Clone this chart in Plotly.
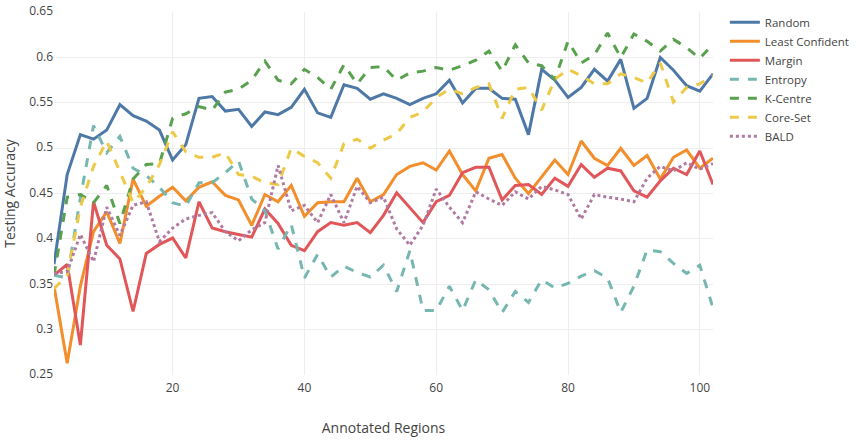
import plotly.graph_objects as go

x_regions = list(range(2, 104, 2))

random_acc = [0.372, 0.471, 0.515, 0.510, 0.520, 0.548, 0.536, 0.530, 0.520, 0.487,
              0.504, 0.555, 0.557, 0.541, 0.543, 0.524, 0.540, 0.537, 0.545, 0.565,
              0.539, 0.534, 0.570, 0.566, 0.554, 0.560, 0.555, 0.548, 0.555, 0.560,
              0.575, 0.550, 0.566, 0.566, 0.555, 0.554, 0.515, 0.587, 0.575, 0.556,
              0.567, 0.587, 0.574, 0.598, 0.544, 0.555, 0.600, 0.586, 0.569, 0.563,
              0.582]

least_confident = [0.348, 0.263, 0.348, 0.408, 0.430, 0.395, 0.466, 0.436, 0.447, 0.457,
                   0.442, 0.457, 0.463, 0.448, 0.443, 0.415, 0.449, 0.441, 0.459, 0.425,
                   0.440, 0.441, 0.441, 0.467, 0.441, 0.449, 0.471, 0.480, 0.484, 0.476,
                   0.497, 0.471, 0.453, 0.489, 0.493, 0.467, 0.450, 0.468, 0.487, 0.471,
                   0.508, 0.489, 0.481, 0.500, 0.481, 0.492, 0.466, 0.490, 0.498, 0.478,
                   0.489]

margin = [0.360, 0.372, 0.283, 0.441, 0.393, 0.378, 0.320, 0.384, 0.394, 0.401,
          0.379, 0.441, 0.412, 0.408, 0.405, 0.402, 0.433, 0.417, 0.393, 0.387,
          0.408, 0.418, 0.415, 0.418, 0.407, 0.426, 0.451, 0.435, 0.418, 0.441,
          0.448, 0.473, 0.479, 0.479, 0.443, 0.459, 0.460, 0.449, 0.467, 0.458,
          0.482, 0.468, 0.478, 0.475, 0.453, 0.446, 0.464, 0.478, 0.471, 0.497,
          0.460]

entropy = [0.360, 0.357, 0.445, 0.525, 0.495, 0.513, 0.478, 0.470, 0.457, 0.440,
           0.436, 0.462, 0.462, 0.473, 0.486, 0.444, 0.431, 0.389, 0.416, 0.357,
           0.383, 0.358, 0.370, 0.363, 0.358, 0.371, 0.342, 0.387, 0.321, 0.321,
           0.348, 0.321, 0.355, 0.344, 0.319, 0.342, 0.330, 0.355, 0.346, 0.351,
           0.359, 0.365, 0.357, 0.319, 0.348, 0.388, 0.386, 0.373, 0.362, 0.371,
           0.324]

k_centre = [0.360, 0.446, 0.449, 0.440, 0.459, 0.417, 0.466, 0.482, 0.483, 0.533,
            0.538, 0.546, 0.542, 0.562, 0.565, 0.575, 0.596, 0.575, 0.571, 0.587,
            0.578, 0.565, 0.592, 0.571, 0.589, 0.590, 0.575, 0.583, 0.585, 0.589,
            0.586, 0.591, 0.597, 0.607, 0.585, 0.614, 0.594, 0.591, 0.576, 0.618,
            0.594, 0.603, 0.627, 0.600, 0.626, 0.618, 0.607, 0.620, 0.611, 0.599,
            0.615]

core_set = [0.345, 0.360, 0.435, 0.480, 0.508, 0.475, 0.440, 0.457, 0.482, 0.518,
            0.496, 0.490, 0.490, 0.495, 0.471, 0.469, 0.462, 0.460, 0.500, 0.491,
            0.484, 0.467, 0.505, 0.510, 0.500, 0.509, 0.516, 0.534, 0.540, 0.556,
            0.565, 0.560, 0.567, 0.571, 0.533, 0.565, 0.567, 0.542, 0.576, 0.587,
            0.580, 0.571, 0.571, 0.582, 0.578, 0.572, 0.594, 0.551, 0.567, 0.571,
            0.580]

bald = [0.362, 0.364, 0.405, 0.375, 0.435, 0.404, 0.437, 0.441, 0.397, 0.412,
        0.422, 0.426, 0.429, 0.408, 0.398, 0.410, 0.418, 0.481, 0.431, 0.437,
        0.418, 0.449, 0.418, 0.458, 0.440, 0.446, 0.411, 0.393, 0.415, 0.455,
        0.435, 0.418, 0.452, 0.444, 0.437, 0.452, 0.444, 0.458, 0.454, 0.449,
        0.422, 0.449, 0.446, 0.444, 0.441, 0.467, 0.480, 0.475, 0.484, 0.477,
        0.483]

y_ticks = [0.25, 0.3, 0.35, 0.4, 0.45, 0.5, 0.55, 0.6, 0.65]
x_ticks = [20, 40, 60, 80, 100]

series = [
    ("Random", random_acc, "#4e79a7", "solid"),
    ("Least Confident", least_confident, "#f28e2b", "solid"),
    ("Margin", margin, "#e15759", "solid"),
    ("Entropy", entropy, "#76b7b2", "dash"),
    ("K-Centre", k_centre, "#59a14f", "dash"),
    ("Core-Set", core_set, "#edc948", "dash"),
    ("BALD", bald, "#b07aa1", "dot"),
]

fig = go.Figure()
for name, vals, color, dash in series:
    fig.add_trace(go.Scatter(x=x_regions, y=vals, name=name, mode="lines",
                             line=dict(color=color, width=3, dash=dash)))

fig.update_layout(
    width=863, height=441,
    margin=dict(l=54, r=137, t=8, b=66),
    paper_bgcolor="white", plot_bgcolor="white",
    font=dict(family="Open Sans", size=12, color="#444"),
    legend=dict(x=1.018, y=1.012, xanchor="left", yanchor="top",
                font=dict(size=11.5, color="#444")),
    xaxis=dict(range=[2, 102], tickvals=x_ticks, showgrid=True, gridcolor="#eeeeee",
               zeroline=False, showline=False, automargin=False, ticklabelstandoff=4,
               title=dict(text="Annotated Regions", standoff=28,
                          font=dict(size=14, color="#444"))),
    yaxis=dict(range=[0.25, 0.6502], tickvals=y_ticks, showgrid=True, gridcolor="#eeeeee",
               zeroline=False, showline=False, automargin=False, ticklabeloverflow="allow",
               ticklabelshift=-1,
               title=dict(text="Testing Accuracy", font=dict(size=14, color="#444"))),
)

fig.write_html("out.html", config={"displayModeBar": False},
               post_script="document.body.style.margin='0px';")
